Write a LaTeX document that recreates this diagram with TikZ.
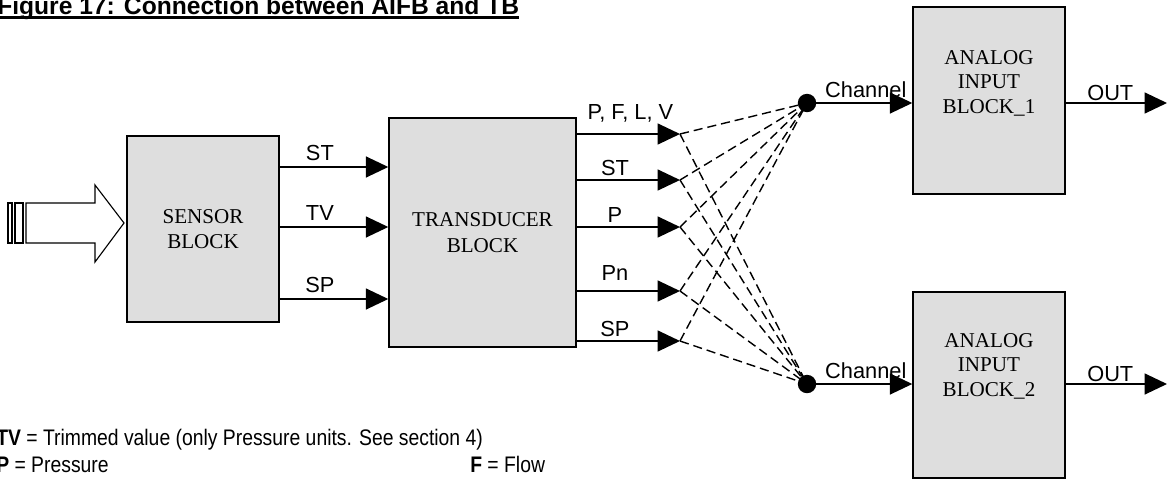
\documentclass[tikz,border=0pt]{standalone}
\usepackage{fontspec}
\setmainfont{Liberation Sans}
\newfontfamily\blkfont{Liberation Serif}
\usetikzlibrary{arrows.meta, positioning, calc}
\definecolor{blkgray}{gray}{0.87}
\newcommand{\keynarrow}[1]{\scalebox{0.86}[1]{#1}}
\tikzset{
  blk/.style={draw, line width=1pt, fill=blkgray, inner sep=0pt, align=center, font=\blkfont\fontsize{15}{18}\selectfont},
  blktxt/.style={align=center, inner sep=0pt, font=\blkfont\fontsize{15}{17.5}\selectfont},
  sig/.style={line width=1pt, -{Triangle[length=16pt,width=15pt]}},
  lbl/.style={font=\fontsize{15.5}{18}\selectfont, inner sep=1pt},
  xlink/.style={line width=1pt, dash pattern=on 6.5pt off 3.5pt},
  junc/.style={circle, fill, inner sep=0pt, minimum size=0.46cm},
  keytxt/.style={anchor=base west, inner sep=0pt, font=\fontsize{16}{19}\selectfont}
}

\begin{document}
\begin{tikzpicture}[x=0.025cm, y=-0.025cm]
\useasboundingbox (0,0) rectangle (1169,480);

\node[anchor=base west, inner sep=0pt, font=\bfseries\fontsize{17.5}{20}\selectfont] (title) at (-3,14) {Figure 17: Connection between AIFB and TB};
\draw[line width=1.6pt] ([yshift=-2.5pt]title.base west) -- ([yshift=-2.5pt]title.base east);

\node[blk, minimum width=3.8cm, minimum height=4.65cm] (sensor) at (203,229) {SENSOR\\BLOCK};
\node[blk, minimum width=4.675cm, minimum height=5.725cm] (trans) at (482.5,232.5) {TRANSDUCER\\BLOCK};
\node[blk, minimum width=3.8cm, minimum height=4.675cm, label={[blktxt, yshift=12.4pt]center:ANALOG\\INPUT\\BLOCK\_1}] (ai1) at (989,100.5) {};
\node[blk, minimum width=3.8cm, minimum height=4.65cm, label={[blktxt, yshift=13.5pt]center:ANALOG\\INPUT\\BLOCK\_2}] (ai2) at (989,385) {};

\draw[line width=0.8pt] (26,203) -- (95,203) -- (95,185) -- (124,223) -- (95,262) -- (95,243) -- (26,243) -- cycle;
\draw[line width=0.8pt] (8,203) rectangle (12,243);
\draw[line width=0.8pt] (15,203) rectangle (23,243);

\draw[sig] (sensor.east |- 0,167) -- (trans.west |- 0,167) node[lbl, above, pos=0.37, yshift=3.3pt]{ST};
\draw[sig] (sensor.east |- 0,227) -- (trans.west |- 0,227) node[lbl, above, pos=0.37, yshift=3.3pt]{TV};
\draw[sig] (sensor.east |- 0,299) -- (trans.west |- 0,299) node[lbl, above, pos=0.37, yshift=3.3pt]{SP};

\coordinate (t1) at (680,134);
\coordinate (t2) at (680,180);
\coordinate (t3) at (680,227);
\coordinate (t4) at (680,291);
\coordinate (t5) at (680,341);
\draw[sig] (trans.east |- t1) -- (t1) node[lbl, above, pos=0.52, yshift=6.5pt]{P, F, L, V};
\draw[sig] (trans.east |- t2) -- (t2) node[lbl, above, pos=0.37, yshift=1.2pt]{ST};
\draw[sig] (trans.east |- t3) -- (t3) node[lbl, above, pos=0.37, yshift=1.8pt]{P};
\draw[sig] (trans.east |- t4) -- (t4) node[lbl, above, pos=0.37, yshift=6pt]{Pn};
\draw[sig] (trans.east |- t5) -- (t5) node[lbl, above, pos=0.37, yshift=1.2pt]{SP};

\coordinate (j1pt) at (807,103);
\coordinate (j2pt) at (807,384);
\draw[xlink] (t1) -- (j1pt);
\draw[xlink] (t2) -- (j1pt);
\draw[xlink] (t3) -- (j1pt);
\draw[xlink] (t4) -- (j1pt);
\draw[xlink] (t5) -- (j1pt);
\draw[xlink] (t1) -- (j2pt);
\draw[xlink] (t2) -- (j2pt);
\draw[xlink] (t3) -- (j2pt);
\draw[xlink] (t4) -- (j2pt);
\draw[xlink] (t5) -- (j2pt);
\node[junc] (j1) at (j1pt) {};
\node[junc] (j2) at (j2pt) {};

\draw[sig] (j1) -- (j1 -| ai1.west) node[lbl, above, midway, xshift=1pt, yshift=2.2pt]{Channel};
\draw[sig] (j2) -- (j2 -| ai2.west) node[lbl, above, midway, xshift=1pt, yshift=2.2pt]{Channel};

\coordinate (o1) at (1167,103);
\coordinate (o2) at (1167,384);
\draw[sig] (ai1.east |- o1) -- (o1) node[lbl, above, pos=0.44]{OUT};
\draw[sig] (ai2.east |- o2) -- (o2) node[lbl, above, pos=0.44]{OUT};

\node[keytxt] (tvkey) at (-4,445) {\keynarrow{\textbf{TV} = Trimmed value (only Pressure units. See section 4)}};
\node[keytxt] (pkey) at (-4,472) {\keynarrow{\textbf{P} = Pressure}};
\node[keytxt] (fkey) at (470,472) {\keynarrow{\textbf{F} = Flow}};
\end{tikzpicture}
\end{document}
